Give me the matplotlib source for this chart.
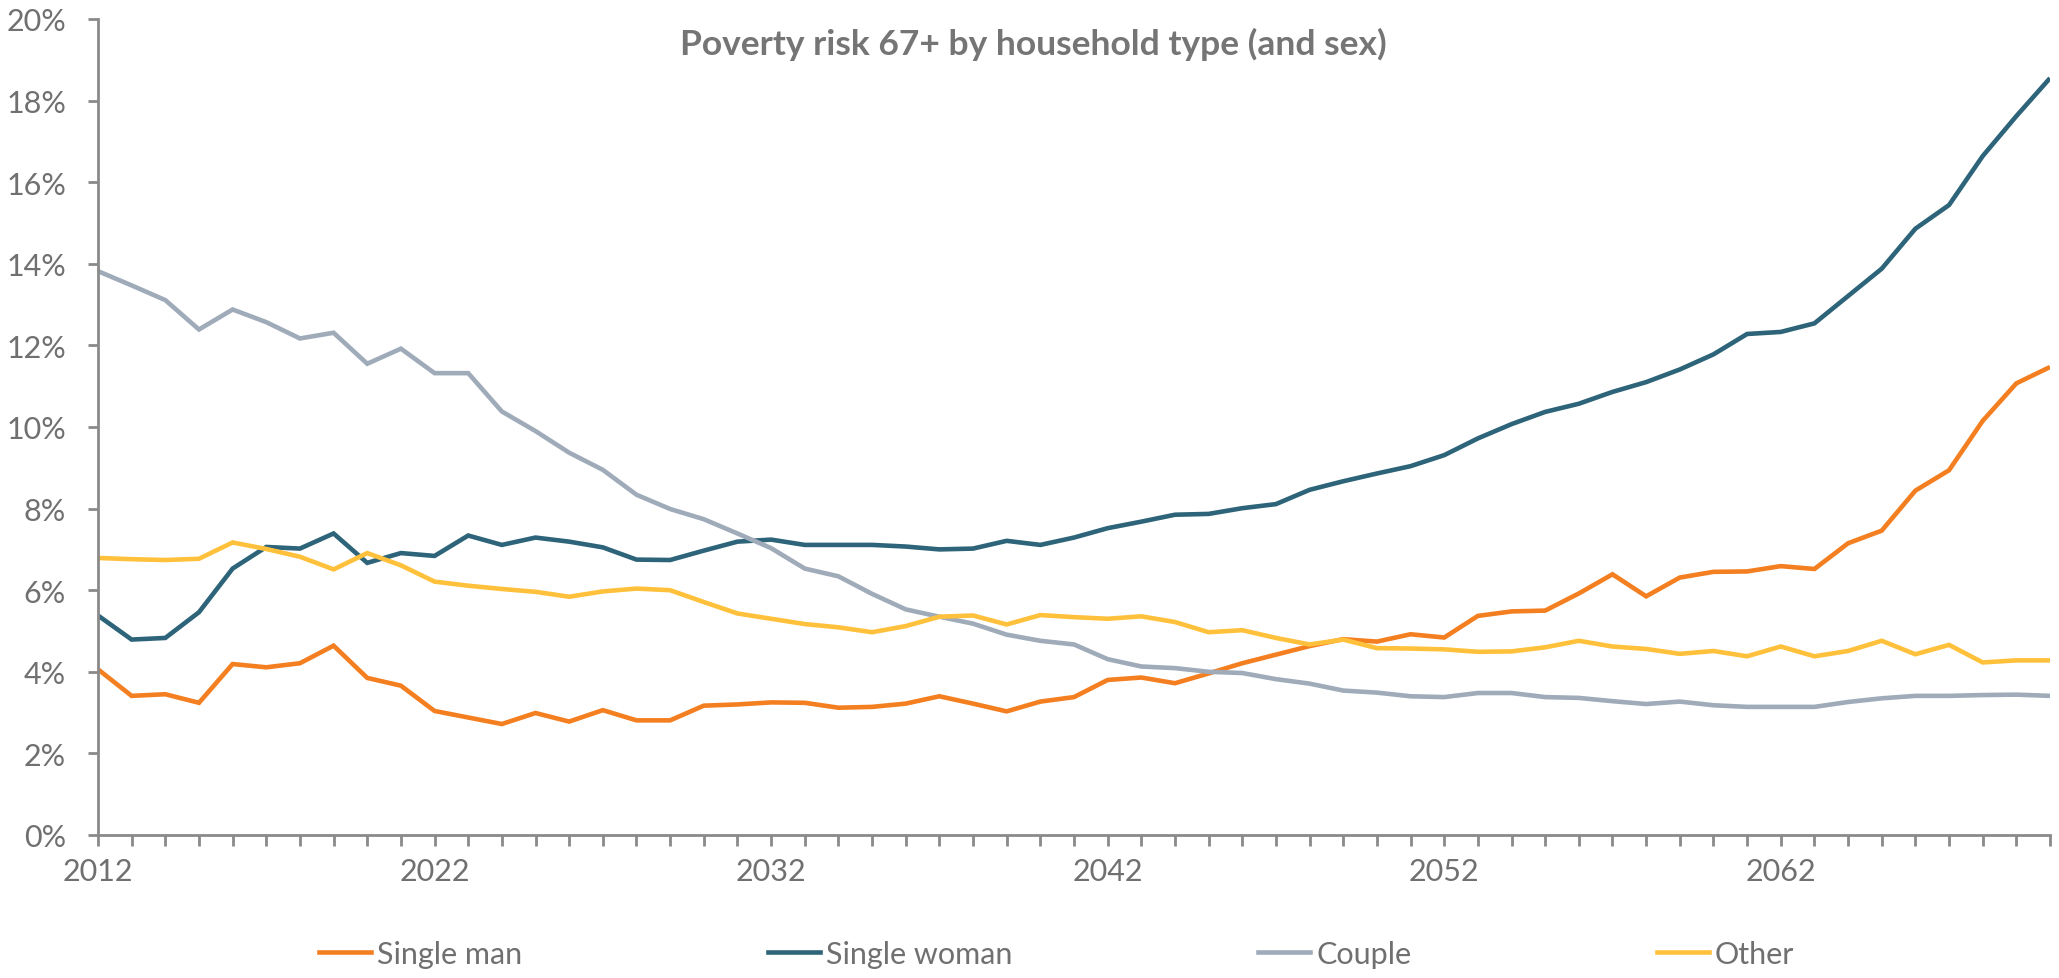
import numpy as np
import matplotlib
matplotlib.use('Agg')
import matplotlib.pyplot as plt
from matplotlib.ticker import PercentFormatter, FixedLocator
from matplotlib.lines import Line2D

plt.rcParams['font.family'] = ['Lato', 'DejaVu Sans']

# poverty risk (%) for people aged 67+, by household type
years = list(range(2012, 2071))

single_man = [
    4.06, 3.41, 3.45, 3.24, 4.19, 4.11, 4.21, 4.64, 3.85, 3.66,
    3.04, 2.88, 2.72, 2.99, 2.78, 3.06, 2.81, 2.81, 3.17, 3.20,
    3.25, 3.24, 3.12, 3.14, 3.22, 3.40, 3.22, 3.03, 3.27, 3.38,
    3.80, 3.86, 3.72, 3.96, 4.21, 4.42, 4.63, 4.80, 4.74, 4.92,
    4.84, 5.37, 5.48, 5.50, 5.92, 6.39, 5.85, 6.31, 6.45, 6.46,
    6.59, 6.52, 7.15, 7.46, 8.44, 8.94, 10.15, 11.07, 11.47,
]
single_woman = [
    5.38, 4.79, 4.83, 5.46, 6.53, 7.06, 7.02, 7.39, 6.67, 6.91,
    6.84, 7.34, 7.11, 7.29, 7.19, 7.05, 6.75, 6.74, 6.97, 7.19,
    7.24, 7.11, 7.11, 7.11, 7.07, 7.00, 7.02, 7.21, 7.11, 7.29,
    7.52, 7.68, 7.85, 7.87, 8.01, 8.11, 8.46, 8.67, 8.86, 9.04,
    9.31, 9.72, 10.07, 10.37, 10.57, 10.86, 11.10, 11.41, 11.78, 12.28,
    12.33, 12.54, 13.21, 13.88, 14.86, 15.44, 16.64, 17.62, 18.55,
]
couple = [
    13.82, 13.47, 13.11, 12.39, 12.88, 12.57, 12.17, 12.31, 11.55, 11.92,
    11.32, 11.32, 10.38, 9.90, 9.37, 8.95, 8.34, 7.99, 7.74, 7.39,
    7.03, 6.53, 6.34, 5.91, 5.53, 5.35, 5.18, 4.91, 4.76, 4.67,
    4.31, 4.13, 4.09, 4.00, 3.97, 3.82, 3.71, 3.54, 3.49, 3.40,
    3.38, 3.48, 3.48, 3.38, 3.36, 3.28, 3.21, 3.27, 3.18, 3.14,
    3.14, 3.14, 3.26, 3.35, 3.41, 3.41, 3.43, 3.44, 3.41,
]
other = [
    6.79, 6.76, 6.74, 6.77, 7.17, 7.01, 6.82, 6.51, 6.91, 6.61,
    6.21, 6.11, 6.03, 5.96, 5.84, 5.97, 6.04, 6.00, 5.71, 5.43,
    5.30, 5.17, 5.09, 4.97, 5.12, 5.35, 5.38, 5.16, 5.39, 5.34,
    5.30, 5.36, 5.22, 4.97, 5.02, 4.83, 4.67, 4.79, 4.58, 4.57,
    4.55, 4.49, 4.50, 4.60, 4.76, 4.62, 4.56, 4.44, 4.51, 4.38,
    4.62, 4.38, 4.51, 4.76, 4.43, 4.66, 4.23, 4.28, 4.28,
]

series_names = ['Single man', 'Single woman', 'Couple', 'Other']
series_colors = ['#F47F20', '#2D6479', '#A0ABBA', '#FFC13B']
text_grey = '#707070'
axis_grey = '#8A8A8A'

W, H = 2059, 979
fig = plt.figure(figsize=(W / 100, H / 100), dpi=100)
ax = fig.add_axes([98 / W, 1 - 836 / H, (2050 - 98) / W, (836 - 20) / H])

for vals, name, col in zip([single_man, single_woman, couple, other], series_names, series_colors):
    ax.plot(years, np.array(vals) / 100, color=col, lw=3.3, label=name,
            solid_joinstyle='miter', solid_capstyle='butt')

ax.set_xlim(years[0], years[-1])
ax.set_ylim(0, 0.20)
ax.set_yticks(np.arange(0, 0.201, 0.02))
ax.yaxis.set_major_formatter(PercentFormatter(1.0, decimals=0))

# a tick for every year, a label every ten years
ax.xaxis.set_major_locator(FixedLocator(years))
ax.set_xticklabels([str(y) if (y - years[0]) % 10 == 0 else '' for y in years])

for side in ['top', 'right']:
    ax.spines[side].set_visible(False)
for side in ['left', 'bottom']:
    ax.spines[side].set_color(axis_grey)
    ax.spines[side].set_linewidth(2)

ax.tick_params(axis='y', direction='out', length=7, width=2, color=axis_grey,
               labelsize=22, labelcolor=text_grey, pad=16)
ax.tick_params(axis='x', direction='out', length=8, width=2, color=axis_grey,
               labelsize=22, labelcolor=text_grey, pad=8)

fig.text(0.502, 1 - 44 / H, 'Poverty risk 67+ by household type (and sex)',
         ha='center', va='center', fontsize=25.5, fontweight='bold', color='#757575')

# one legend entry per slot along the bottom
legend_x = [319, 768, 1258, 1657]
for name, col, lx in zip(series_names, series_colors, legend_x):
    handle = Line2D([], [], color=col, lw=3.3)
    leg = fig.legend([handle], [name], loc='center left',
                     bbox_to_anchor=(lx / W, 1 - 955 / H), frameon=False,
                     fontsize=22, handlelength=1.7, handletextpad=0.2,
                     borderpad=0, borderaxespad=0)
    for t in leg.get_texts():
        t.set_color(text_grey)

fig.savefig('out.png', dpi=100)
